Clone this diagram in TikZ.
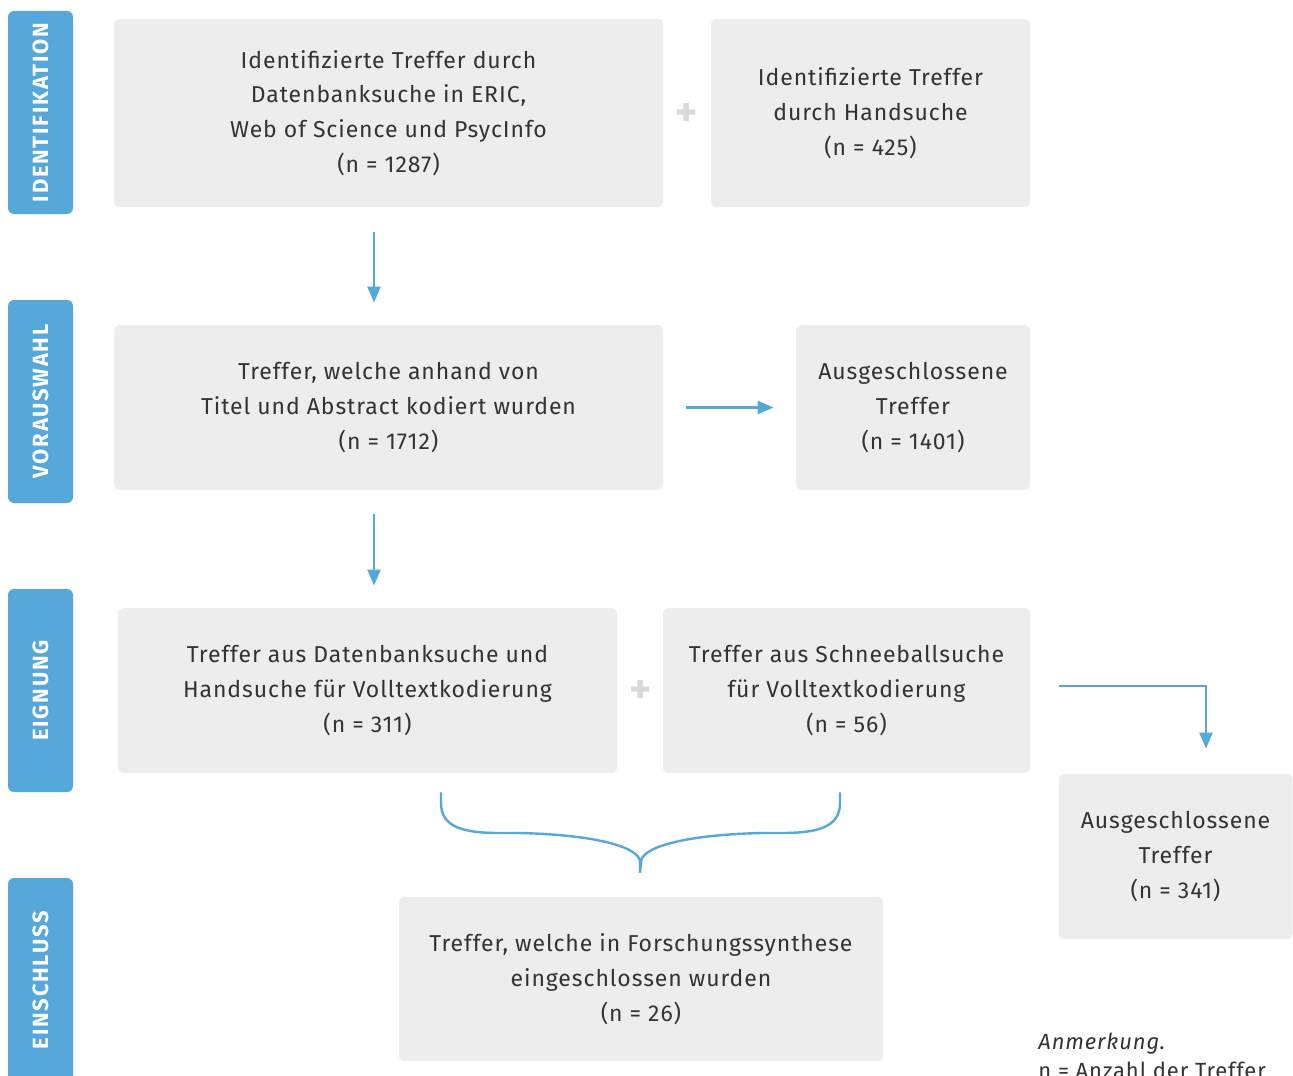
\documentclass[tikz,border=0pt]{standalone}
\usepackage{fontspec}
\setmainfont{Fira Sans}[LetterSpace=4]
\newfontfamily\sidefont{Fira Sans}[LetterSpace=8]
\usetikzlibrary{arrows.meta}
\definecolor{lblue}{HTML}{56A7DA}
\definecolor{boxgray}{HTML}{EDEDED}
\definecolor{txt}{HTML}{333333}
\definecolor{plusgray}{HTML}{D9D9D9}
\tikzset{
  side/.style={fill=lblue, rounded corners=3pt, inner sep=0pt, minimum width=32.5pt},
  sidetext/.style={text=white, font=\sidefont\fontsize{11}{12}\selectfont\bfseries, rotate=90},
  box/.style={fill=boxgray, rounded corners=2.5pt, inner sep=0pt, align=center,
    text=txt, font=\fontsize{11.5}{17.4}\selectfont},
  arr/.style={draw=lblue, line width=1.2pt, -{Triangle[length=8pt,width=6.5pt]}},
  plus/.style={text=plusgray, font=\bfseries\fontsize{21}{21}\selectfont},
}
\begin{document}
\begin{tikzpicture}[x=0.5pt,y=-0.5pt]
\useasboundingbox (0,0) rectangle (1293,1075);
% side labels
\node[side, minimum height=101.5pt] (s1) at (40.5,112.5) {};
\node[sidetext] (t1) at (s1.center) {IDENTIFIKATION};
\node[side, minimum height=101.5pt] (s2) at (40.5,401.5) {};
\node[sidetext] (t2) at (s2.center) {VORAUSWAHL};
\node[side, minimum height=101.5pt] (s3) at (40.5,690.5) {};
\node[sidetext] (t3) at (s3.center) {EIGNUNG};
\node[side, minimum height=110pt] (s4) at (40.5,988) {};
\node[sidetext] (t4) at (40.5,980) {EINSCHLUSS};
% boxes
\node[box, minimum width=274.5pt, minimum height=94pt] (A) at (388.5,113)
  {Identifizierte Treffer durch\\Datenbanksuche in ERIC,\\Web of Science und PsycInfo\\(n = 1287)};
\node[box, minimum width=159.5pt, minimum height=94pt] (B) at (870.5,113)
  {Identifizierte Treffer\\durch Handsuche\\(n = 425)};
\node[plus] (p1) at (687,115) {+};
\node[box, minimum width=274.5pt, minimum height=82.5pt] (C) at (388.5,407.5)
  {Treffer, welche anhand von\\Titel und Abstract kodiert wurden\\(n = 1712)};
\node[box, minimum width=117pt, minimum height=82.5pt] (D) at (913,407.5)
  {Ausgeschlossene\\Treffer\\(n = 1401)};
\node[box, minimum width=249.5pt, minimum height=82.5pt] (E) at (367.5,690.5)
  {Treffer aus Datenbanksuche und\\Handsuche für Volltextkodierung\\(n = 311)};
\node[plus] (p2) at (641,692) {+};
\node[box, minimum width=183.5pt, minimum height=82.5pt] (F) at (846.5,690.5)
  {Treffer aus Schneeballsuche\\für Volltextkodierung\\(n = 56)};
\node[box, minimum width=117pt, minimum height=82.5pt] (G) at (1175.5,856.5)
  {Ausgeschlossene\\Treffer\\(n = 341)};
\node[box, minimum width=242pt, minimum height=82pt] (H) at (641,979)
  {Treffer, welche in Forschungssynthese\\eingeschlossen wurden\\(n = 26)};
% arrows
\coordinate (ax) at (374,0);
\draw[arr, shorten <=12.5pt, shorten >=11pt] (A.south -| ax) -- (C.north -| ax);
\draw[arr, shorten <=12pt, shorten >=11pt] (C.south -| ax) -- (E.north -| ax);
\draw[arr, shorten <=11.5pt, shorten >=11pt] (C.east) -- (D.west);
\coordinate (e1) at (1059,686);
\coordinate (gx) at (1206,0);
\draw[arr, shorten >=12.5pt] (e1) -| (G.north -| gx);
% brace
\coordinate (bl) at (441,793);
\coordinate (br) at (840,793);
\coordinate (bm) at (640,872);
\draw[lblue, line width=1.2pt, line cap=round]
  (bl) -- (441,803) .. controls (441,828) and (465,833) .. (500,833)
  -- (520,833) .. controls (600,835) and (640,848) .. (640,862) -- (bm);
\draw[lblue, line width=1.2pt, line cap=round]
  (br) -- (840,803) .. controls (840,828) and (816,833) .. (781,833)
  -- (761,833) .. controls (681,835) and (641,848) .. (641,862) -- (bm);
% annotation
\node[anchor=base west, inner sep=0pt, text=txt, font=\fontsize{11}{14.5}\selectfont, align=left] (note) at (1038,1078)
  {\itshape Anmerkung\upshape.\\n = Anzahl der Treffer};
\end{tikzpicture}
\end{document}
